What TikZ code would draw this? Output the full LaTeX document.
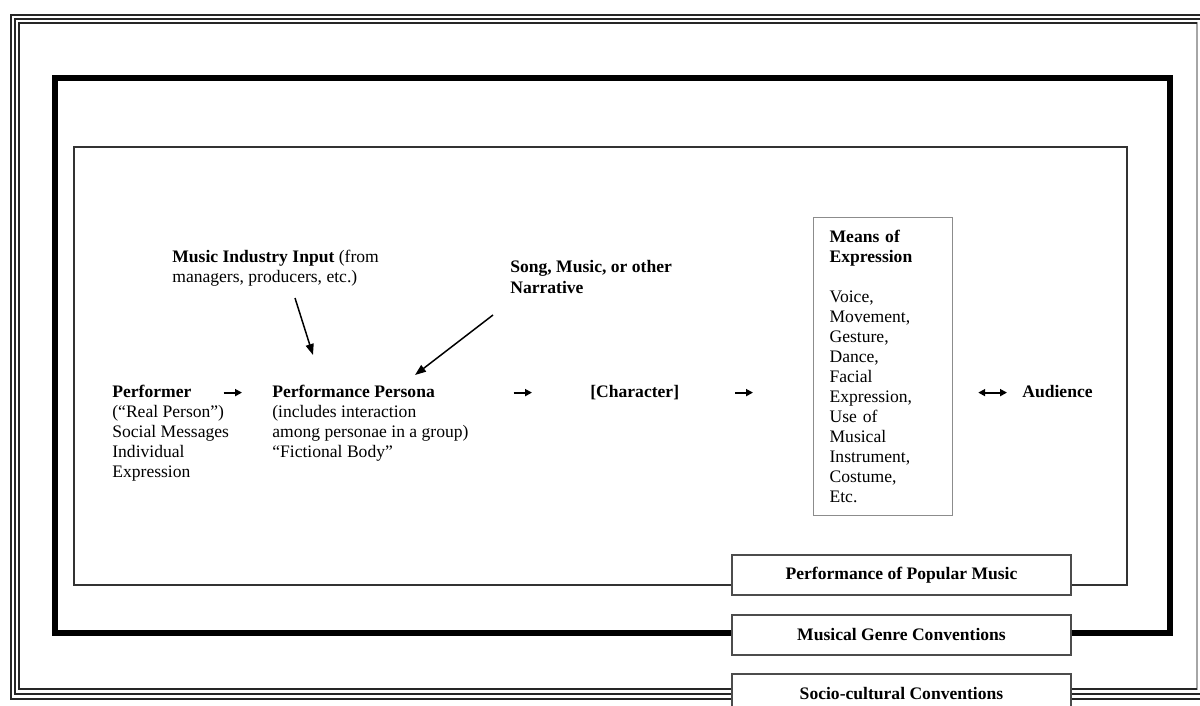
\documentclass[tikz,border=0pt]{standalone}
\usepackage{fontspec}
\setmainfont{Liberation Serif}
\usetikzlibrary{arrows.meta,positioning}

\tikzset{
  framerule/.style={black!85, line width=0.7pt},
  genrerule/.style={black, line width=3.6pt},
  musicrule/.style={black!80, line width=1.1pt},
  levelbox/.style={draw=black!70, line width=1.1pt, fill=white, font=\bfseries,
    minimum width=6.78cm, minimum height=0.8cm, inner sep=0pt},
  title/.style={font=\bfseries, inner sep=0pt, text height=0.7em, text depth=0.2em, anchor=base west},
  body/.style={inner sep=0pt, align=left},
  meansbox/.style={draw=black!45, line width=0.7pt, align=left, anchor=north west,
    text width=2.14cm, inner xsep=0.32cm, inner ysep=0pt, minimum height=5.96cm},
  smallarrow/.style={-{Triangle[length=0.14cm,width=0.14cm]}, line width=1.1pt},
  twoway/.style={{Triangle[length=0.14cm,width=0.14cm]}-{Triangle[length=0.14cm,width=0.14cm]}, line width=1.1pt},
  longarrow/.style={-{Triangle[length=0.22cm,width=0.16cm]}, line width=0.85pt},
}

\begin{document}
\begin{tikzpicture}[x=0.02cm, y=-0.02cm, font=\fontsize{10}{11.4}\selectfont]
    \useasboundingbox (0,0) rectangle (1200,706);
    \clip (0,0) rectangle (1200,706);

    % nested frames
    \draw[framerule] (11,15) rectangle (1206,699);
    \draw[framerule] (15,19) rectangle (1202,694);
    \draw[framerule, black!35] (19,23) -- (1197,23) -- (1197,689) -- (19,689);
    \draw[framerule] (1197,23) -| (19,689) -- (1197,689);
    \draw[genrerule] (55,78) rectangle (1170,633);
    \draw[musicrule] (74,147) rectangle (1127,585);

    \node[levelbox] (popular) at (901.5,575) {Performance of Popular Music};
    \node[levelbox] (genre) at (901.5,635) {Musical Genre Conventions};
    \node[levelbox] (society) at (901.5,694) {Socio-cultural Conventions};

    % inputs
    \node[body, anchor=north west] (industry) at (172,250)
        {\textbf{Music Industry Input} (from\\managers, producers, etc.)};
    \node[body, anchor=north west, font=\bfseries] (narrative) at (510,260)
        {Song, Music, or other\\Narrative};

    % main chain
    \node[title] (performer) at (112,397) {Performer};
    \node[body, below right=0.09cm and 0cm of performer.south west] (performerbody)
        {(“Real Person”)\\Social Messages\\Individual\\Expression};
    \node[title] (persona) at (272,397) {Performance Persona};
    \node[body, below right=0.09cm and 0cm of persona.south west] (personabody)
        {(includes interaction\\among personae in a group)\\“Fictional Body”};
    \node[title] (character) at (590,397) {[Character]};
    \node[meansbox] (means) at (813,217)
        {\textbf{Means of}\\\textbf{Expression}\\[11.4pt]Voice,\\Movement,\\Gesture,\\Dance,\\Facial\\Expression,\\Use of\\Musical\\Instrument,\\Costume,\\Etc.};
    \node[title] (audience) at (1022,397) {Audience};

    \coordinate (meansentry) at (character.east -| means.west);
    \coordinate (meansexit) at (audience.west -| means.east);
    \coordinate (inputfoot) at (295,298);
    \coordinate (personatop) at (313,355);
    \coordinate (narrativefoot) at (493,315);
    \coordinate (personaside) at (415,375);

    \draw[smallarrow] ([xshift=0.64cm]performer.east) -- ([xshift=-0.6cm]persona.west);
    \draw[smallarrow] ([xshift=1.57cm]persona.east) -- ([xshift=-1.16cm]character.west);
    \draw[smallarrow] ([xshift=1.12cm]character.east) -- ([xshift=-1.2cm]meansentry);
    \draw[twoway] ([xshift=0.5cm]meansexit) -- ([xshift=-0.3cm]audience.west);
    \draw[longarrow] (inputfoot) -- (personatop);
    \draw[longarrow] (narrativefoot) -- (personaside);
\end{tikzpicture}
\end{document}
